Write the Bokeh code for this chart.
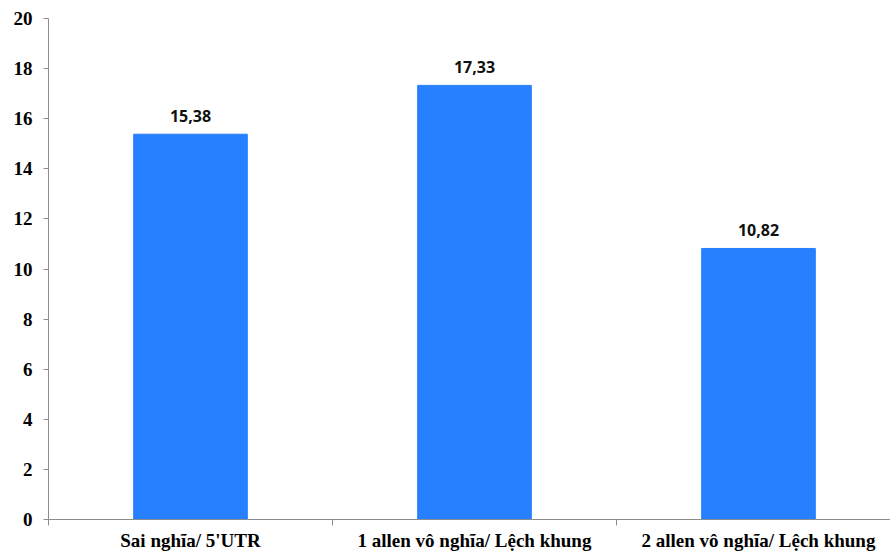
from bokeh.plotting import figure
from bokeh.models import ColumnDataSource, FixedTicker, Range1d
from bokeh.core.properties import value
from bokeh.embed import file_html
from bokeh.resources import INLINE

# Data
categories = ["Sai nghĩa/ 5'UTR", "1 allen vô nghĩa/ Lệch khung", "2 allen vô nghĩa/ Lệch khung"]
values = [15.38, 17.33, 10.82]
value_labels = ["15,38", "17,33", "10,82"]
y_ticks = [0, 2, 4, 6, 8, 10, 12, 14, 16, 18, 20]

# Each category occupies one unit; bars sit in the middle of their slot
centers = [i + 0.5 for i in range(len(categories))]
bounds = [i for i in range(len(categories) + 1)]

source = ColumnDataSource(data=dict(x=centers, top=values, label=value_labels))

# the last slot runs slightly past the right edge of the canvas
x_end = 842 / 284

p = figure(
    width=890, height=553,
    x_range=Range1d(0, x_end),
    y_range=Range1d(0, 20),
    output_backend="svg",
    toolbar_location=None,
    min_border_left=48, min_border_right=0,
    min_border_top=18, min_border_bottom=34,
)
p.outline_line_color = None
p.xgrid.visible = False
p.ygrid.visible = False
p.background_fill_color = "white"
p.border_fill_color = "white"

p.vbar(x="x", top="top", width=0.4, bottom=0, source=source,
       fill_color="#2680ff", line_color="#2680ff")

p.text(x="x", y="top", text="label", source=source,
       text_align="center", text_baseline="bottom", y_offset=-12,
       text_font=value("Open Sans"), text_font_style="bold",
       text_font_size="16px", text_color="#111111")

axis_color = "#8c8c8c"

# Y axis
p.yaxis.ticker = FixedTicker(ticks=y_ticks)
p.yaxis.axis_line_color = axis_color
p.yaxis.major_tick_line_color = axis_color
p.yaxis.major_tick_out = 5
p.yaxis.major_tick_in = 0
p.yaxis.minor_tick_line_color = None
p.yaxis.major_label_text_font = "Liberation Serif"
p.yaxis.major_label_text_font_style = "bold"
p.yaxis.major_label_text_font_size = "19px"
p.yaxis.major_label_text_color = "black"
p.yaxis.major_label_standoff = 11

# X axis: labels at slot centers, tick marks on slot boundaries
p.xaxis.ticker = FixedTicker(ticks=centers, minor_ticks=bounds)
p.xaxis.major_label_overrides = {c: name for c, name in zip(centers, categories)}
p.xaxis.axis_line_color = axis_color
p.xaxis.major_tick_line_color = None
p.xaxis.major_tick_out = 0
p.xaxis.major_tick_in = 0
p.xaxis.minor_tick_line_color = axis_color
p.xaxis.minor_tick_out = 6
p.xaxis.minor_tick_in = 0
p.xaxis.major_label_text_font = "Liberation Serif"
p.xaxis.major_label_text_font_style = "bold"
p.xaxis.major_label_text_font_size = "19px"
p.xaxis.major_label_text_color = "black"
p.xaxis.major_label_standoff = 4

open("out.html", "w").write(file_html(p, INLINE))
